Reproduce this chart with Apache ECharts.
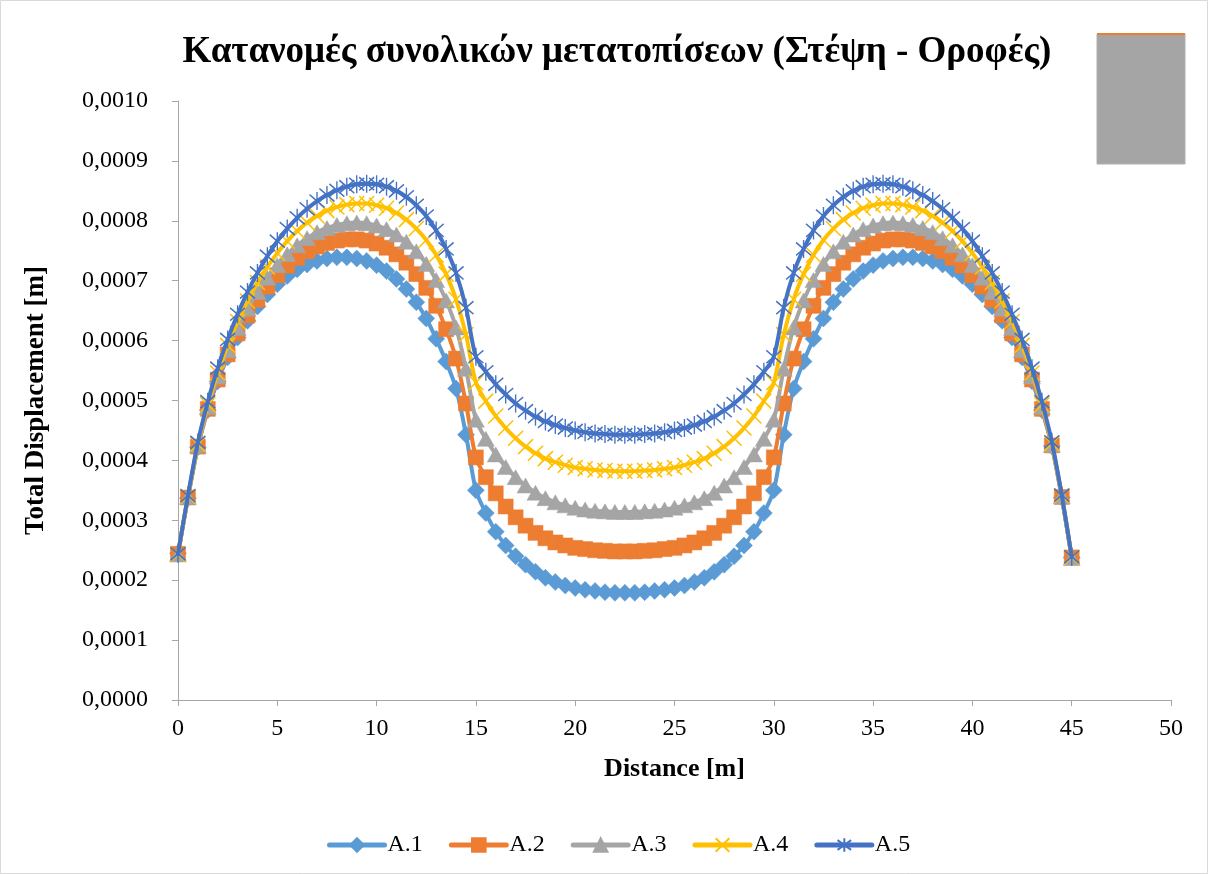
<!DOCTYPE html>
<html>
<head>
<meta charset="utf-8">
<script src="https://cdn.jsdelivr.net/npm/echarts@6/dist/echarts.min.js"></script>
<style>
html,body{margin:0;padding:0;background:#fff;}
#chart{width:1208px;height:874px;}
</style>
</head>
<body>
<div id="chart"></div>
<script>
// Distance [m]
const distance = [0,0.5,1,1.5,2,2.5,3,3.5,4,4.5,5,5.5,6,6.5,7,7.5,8,8.5,9,9.5,10,10.5,11,11.5,12,12.5,13,13.5,14,14.5,15,15.5,16,16.5,17,17.5,18,18.5,19,19.5,20,20.5,21,21.5,22,22.5,23,23.5,24,24.5,25,25.5,26,26.5,27,27.5,28,28.5,29,29.5,30,30.5,31,31.5,32,32.5,33,33.5,34,34.5,35,35.5,36,36.5,37,37.5,38,38.5,39,39.5,40,40.5,41,41.5,42,42.5,43,43.5,44,44.5,45];

// Total Displacement [m]
const a1 = [245e-6,337e-6,422e-6,484e-6,532e-6,572e-6,605e-6,633e-6,657e-6,677e-6,694e-6,708e-6,719e-6,727e-6,733e-6,737e-6,739e-6,739e-6,737e-6,733e-6,726e-6,716e-6,703e-6,686e-6,664e-6,637e-6,603e-6,565e-6,520e-6,443e-6,350e-6,312e-6,281e-6,258e-6,240e-6,226e-6,214e-6,204e-6,197e-6,191e-6,187e-6,184e-6,182e-6,180e-6,179e-6,179e-6,
179e-6,180e-6,182e-6,184e-6,187e-6,191e-6,197e-6,204e-6,214e-6,226e-6,240e-6,258e-6,281e-6,312e-6,350e-6,443e-6,520e-6,565e-6,603e-6,637e-6,664e-6,686e-6,703e-6,716e-6,726e-6,733e-6,737e-6,739e-6,739e-6,737e-6,733e-6,727e-6,719e-6,708e-6,694e-6,677e-6,657e-6,633e-6,605e-6,572e-6,532e-6,484e-6,424e-6,338e-6,238e-6];

const a2 = [244e-6,338e-6,423e-6,486e-6,535e-6,577e-6,612e-6,642e-6,668e-6,690e-6,709e-6,725e-6,738e-6,749e-6,757e-6,763e-6,767e-6,769e-6,769e-6,767e-6,762e-6,755e-6,744e-6,730e-6,711e-6,688e-6,658e-6,619e-6,570e-6,495e-6,405e-6,372e-6,345e-6,323e-6,305e-6,291e-6,279e-6,270e-6,263e-6,258e-6,254e-6,252e-6,250e-6,249e-6,248e-6,248e-6,
248e-6,249e-6,250e-6,252e-6,254e-6,258e-6,263e-6,270e-6,279e-6,291e-6,305e-6,323e-6,345e-6,372e-6,405e-6,495e-6,570e-6,619e-6,658e-6,688e-6,711e-6,730e-6,744e-6,755e-6,762e-6,767e-6,769e-6,769e-6,767e-6,763e-6,757e-6,749e-6,738e-6,725e-6,709e-6,690e-6,668e-6,642e-6,612e-6,577e-6,535e-6,486e-6,425e-6,339e-6,238e-6];

const a3 = [243e-6,339e-6,425e-6,489e-6,540e-6,584e-6,621e-6,653e-6,681e-6,705e-6,726e-6,744e-6,759e-6,771e-6,781e-6,788e-6,793e-6,796e-6,797e-6,796e-6,792e-6,786e-6,777e-6,765e-6,749e-6,728e-6,701e-6,667e-6,622e-6,553e-6,468e-6,436e-6,410e-6,389e-6,372e-6,358e-6,346e-6,337e-6,330e-6,325e-6,321e-6,318e-6,316e-6,315e-6,314e-6,314e-6,
314e-6,315e-6,316e-6,318e-6,321e-6,325e-6,330e-6,337e-6,346e-6,358e-6,372e-6,389e-6,410e-6,436e-6,468e-6,553e-6,622e-6,667e-6,701e-6,728e-6,749e-6,765e-6,777e-6,786e-6,792e-6,796e-6,797e-6,796e-6,793e-6,788e-6,781e-6,771e-6,759e-6,744e-6,726e-6,705e-6,681e-6,653e-6,621e-6,584e-6,540e-6,489e-6,426e-6,340e-6,237e-6];

const a4 = [243e-6,340e-6,427e-6,493e-6,546e-6,592e-6,632e-6,666e-6,697e-6,723e-6,746e-6,766e-6,783e-6,797e-6,808e-6,817e-6,823e-6,827e-6,829e-6,829e-6,826e-6,821e-6,813e-6,802e-6,787e-6,768e-6,743e-6,711e-6,669e-6,610e-6,530e-6,499e-6,474e-6,454e-6,437e-6,423e-6,412e-6,403e-6,397e-6,392e-6,388e-6,386e-6,384e-6,383e-6,382e-6,382e-6,
382e-6,383e-6,384e-6,386e-6,388e-6,392e-6,397e-6,403e-6,412e-6,423e-6,437e-6,454e-6,474e-6,499e-6,530e-6,610e-6,669e-6,711e-6,743e-6,768e-6,787e-6,802e-6,813e-6,821e-6,826e-6,829e-6,829e-6,827e-6,823e-6,817e-6,808e-6,797e-6,783e-6,766e-6,746e-6,723e-6,697e-6,666e-6,632e-6,592e-6,546e-6,493e-6,428e-6,341e-6,238e-6];

const a5 = [244e-6,341e-6,430e-6,498e-6,554e-6,602e-6,644e-6,681e-6,713e-6,741e-6,766e-6,787e-6,805e-6,820e-6,833e-6,843e-6,851e-6,857e-6,861e-6,862e-6,861e-6,857e-6,850e-6,840e-6,826e-6,808e-6,784e-6,753e-6,713e-6,655e-6,573e-6,548e-6,527e-6,510e-6,495e-6,483e-6,473e-6,465e-6,459e-6,454e-6,450e-6,447e-6,445e-6,444e-6,443e-6,443e-6,
443e-6,444e-6,445e-6,447e-6,450e-6,454e-6,459e-6,465e-6,473e-6,483e-6,495e-6,510e-6,527e-6,548e-6,573e-6,655e-6,713e-6,753e-6,784e-6,808e-6,826e-6,840e-6,850e-6,857e-6,861e-6,862e-6,861e-6,857e-6,851e-6,843e-6,833e-6,820e-6,805e-6,787e-6,766e-6,741e-6,713e-6,681e-6,644e-6,602e-6,554e-6,498e-6,431e-6,342e-6,239e-6];

const seriesNames = ['A.1','A.2','A.3','A.4','A.5'];
const xTicks = {min: 0, max: 50, interval: 5};
const yTicks = {min: 0, max: 0.001, interval: 0.0001};

const FONT = "'Times New Roman', 'Liberation Serif', serif";
const AXIS_COLOR = '#A6A6A6';

function pairs(ys){ return distance.map((x,i)=>[x, ys[i]]); }

const styles = [
  {color:'#5B9BD5', symbol:'diamond', size:[17,17]},
  {color:'#ED7D31', symbol:'rect', size:[15,15]},
  {color:'#A5A5A5', symbol:'triangle', size:[17,15]},
  {color:'#FFC000', symbol:'path://M0,0L10,10M10,0L0,10', size:[15,15], open:true},
  {color:'#4472C4', symbol:'path://M0,0L10,10M10,0L0,10M5,-2L5,12', size:[15,18], open:true}
];
const allData = [a1,a2,a3,a4,a5];

const series = allData.map((d,i)=>{
  const s = styles[i];
  return {
    name: seriesNames[i],
    type: 'line',
    data: pairs(d),
    smooth: 0.3,
    symbol: s.symbol,
    symbolSize: s.size,
    showAllSymbol: true,
    sampling: 'none',
    lineStyle: {color: s.color, width: 4, cap: 'round', join: 'round'},
    itemStyle: s.open ? {color: s.color, borderColor: s.color, borderWidth: 1.5} : {color: s.color, borderColor: s.color, borderWidth: 0.5},
    emphasis: {disabled: true},
    z: 2 + i
  };
});

const chart = echarts.init(document.getElementById('chart'), null, {renderer:'canvas'});
chart.setOption({
  animation: false,
  backgroundColor: '#fff',
  title: {
    text: 'Κατανομές συνολικών μετατοπίσεων (Στέψη - Οροφές)',
    left: 612, top: 29, textAlign: 'center',
    textStyle: {fontFamily: FONT, fontWeight: 'bold', fontSize: 37, color: '#000'}
  },
  grid: {left: 178, right: 37, top: 101, bottom: 174, containLabel: false},
  xAxis: {
    type: 'value', min: xTicks.min, max: xTicks.max, interval: xTicks.interval,
    name: 'Distance [m]', nameLocation: 'middle', nameGap: 56,
    nameTextStyle: {fontFamily: FONT, fontWeight: 'bold', fontSize: 26, color: '#000'},
    axisLine: {show: true, onZero: false, lineStyle: {color: AXIS_COLOR, width: 1}},
    axisTick: {show: true, inside: false, length: 6, lineStyle: {color: AXIS_COLOR}},
    axisLabel: {fontFamily: FONT, fontSize: 24, color: '#000', margin: 17},
    splitLine: {show: false}
  },
  yAxis: {
    type: 'value', min: yTicks.min, max: yTicks.max, interval: yTicks.interval,
    name: 'Total Displacement [m]', nameLocation: 'middle', nameGap: 128, nameRotate: 90,
    nameTextStyle: {fontFamily: FONT, fontWeight: 'bold', fontSize: 27, color: '#000'},
    axisLine: {show: true, lineStyle: {color: AXIS_COLOR, width: 1}},
    axisTick: {show: true, inside: false, length: 6, lineStyle: {color: AXIS_COLOR}},
    axisLabel: {fontFamily: FONT, fontSize: 24, color: '#000', margin: 30,
      formatter: v => v.toFixed(4).replace('.', ',')},
    splitLine: {show: false}
  },
  legend: {
    data: seriesNames,
    top: 828, left: 322,
    itemWidth: 55, itemHeight: 17, itemGap: 26,
    lineStyle: {width: 5},
    textStyle: {fontFamily: FONT, fontSize: 24, color: '#000', padding: [0,0,0,-2]}
  },
  graphic: [
    {type:'rect', silent:true, z: -1, shape:{x:0.5, y:0.5, width:1207, height:873}, style:{fill:'none', stroke:'#D9D9D9', lineWidth:1}},
    {type:'rect', silent:true, shape:{x:1097, y:34, width:88, height:130}, style:{fill:'#A5A5A5', stroke:'#B0B0B0', lineWidth:1}},
    {type:'rect', silent:true, shape:{x:1097, y:33, width:88, height:2}, style:{fill:'#ED7D31'}}
  ],
  series: series
});
</script>
</body>
</html>
